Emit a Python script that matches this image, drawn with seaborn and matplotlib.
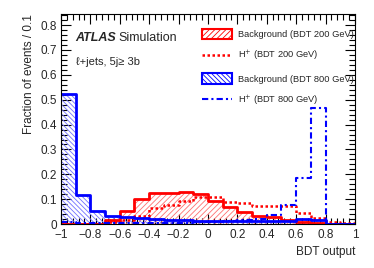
import numpy as np
import pandas as pd
import seaborn as sns
import matplotlib.pyplot as plt
from matplotlib.patches import Patch
from matplotlib.lines import Line2D
from matplotlib.ticker import MultipleLocator, FuncFormatter

sns.set_style("ticks")
plt.rcParams['font.family'] = ['Liberation Sans', 'DejaVu Sans']
plt.rcParams['hatch.linewidth'] = 0.6
plt.rcParams['axes.unicode_minus'] = True

# BDT output binning (20 bins of 0.1)
edges = [round(-1.0 + 0.1 * i, 2) for i in range(21)]
centers = [round(e + 0.05, 3) for e in edges[:-1]]

bkg_200 = [0.002, 0.002, 0.002, 0.016, 0.053, 0.100, 0.123, 0.126, 0.128, 0.119,
           0.094, 0.070, 0.047, 0.033, 0.027, 0.018, 0.007, 0.003, 0.0, 0.0]
sig_200 = [0.001, 0.001, 0.002, 0.008, 0.015, 0.033, 0.064, 0.078, 0.094, 0.110,
           0.110, 0.090, 0.086, 0.073, 0.074, 0.072, 0.045, 0.025, 0.008, 0.003]
bkg_800 = [0.522, 0.118, 0.051, 0.033, 0.027, 0.024, 0.020, 0.018, 0.016, 0.014,
           0.013, 0.012, 0.011, 0.011, 0.011, 0.011, 0.022, 0.017, 0.0, 0.0]
sig_800 = [0.008, 0.006, 0.005, 0.005, 0.005, 0.005, 0.005, 0.005, 0.006, 0.007,
           0.009, 0.012, 0.016, 0.022, 0.035, 0.078, 0.185, 0.465, 0.0, 0.0]

df = pd.DataFrame({"x": centers, "bkg200": bkg_200, "sig200": sig_200,
                   "bkg800": bkg_800, "sig800": sig_800})

fig = plt.figure(figsize=(3.74, 2.68), dpi=100)
ax = fig.add_axes([0.163, 0.164, 0.786, 0.784])

RED_HATCH = "//////"
BLUE_HATCH = "\\" * 7
RED_DOT = (0, (1.0, 1.0))
BLUE_DASHDOT = (0, (3, 1.5, 1, 1.5))


def hatched(col, color, hatch):
    n = len(ax.collections)
    sns.histplot(data=df, x="x", weights=col, bins=edges, element="step",
                 fill=True, ax=ax)
    for c in ax.collections[n:]:
        c.set_facecolor("none")
        c.set_edgecolor(color)
        c.set_hatch(hatch)
        c.set_linewidth(0)


def outline(col, color, ls, lw):
    sns.histplot(data=df, x="x", weights=col, bins=edges, element="step",
                 fill=False, color=color, linestyle=ls, linewidth=lw, ax=ax)


hatched("bkg200", "#ff7070", RED_HATCH)
outline("bkg200", "red", "-", 2.0)
outline("sig200", "red", RED_DOT, 1.8)
hatched("bkg800", "#7070ff", BLUE_HATCH)
outline("bkg800", "blue", "-", 2.0)
outline("sig800", "blue", BLUE_DASHDOT, 1.5)

ax.set_xlim(-1, 1)
ax.set_ylim(0, 0.845)
ax.xaxis.set_major_locator(MultipleLocator(0.2))
ax.xaxis.set_minor_locator(MultipleLocator(0.04))
ax.yaxis.set_major_locator(MultipleLocator(0.1))
ax.yaxis.set_minor_locator(MultipleLocator(0.02))
fmt = FuncFormatter(lambda v, p: ("%g" % round(v, 2)).replace("-", "\u2212"))
ax.xaxis.set_major_formatter(fmt)
ax.yaxis.set_major_formatter(fmt)
ax.tick_params(which="both", direction="in", top=True, right=True,
               labelsize=8.5, width=0.8, color="black")
ax.tick_params(axis="x", pad=3.5)
ax.tick_params(axis="y", pad=3)
ax.tick_params(which="major", length=7)
ax.tick_params(which="minor", length=4)
for s in ax.spines.values():
    s.set_linewidth(0.8)
    s.set_color("black")

ax.set_xlabel("BDT output", loc="right", fontsize=8.5)
ax.set_ylabel("Fraction of events / 0.1", loc="top", fontsize=8.5)

ax.text(0.05, 0.87, "ATLAS", transform=ax.transAxes, fontsize=9,
        fontweight="bold", fontstyle="italic")
ax.text(0.195, 0.87, "Simulation", transform=ax.transAxes, fontsize=9)
ax.text(0.05, 0.755, "\u2113+jets, 5j\u2265 3b", transform=ax.transAxes, fontsize=8)

handles = [
    Patch(facecolor="white", edgecolor="red", hatch=RED_HATCH, linewidth=1.5),
    Line2D([], [], color="red", linestyle=RED_DOT, linewidth=1.8),
    Patch(facecolor="white", edgecolor="blue", hatch=BLUE_HATCH, linewidth=1.5),
    Line2D([], [], color="blue", linestyle=BLUE_DASHDOT, linewidth=1.5),
]
labels = ["Background (BDT 200 GeV)", "H$^{+}$ (BDT 200 GeV)",
          "Background (BDT 800 GeV)", "H$^{+}$ (BDT 800 GeV)"]
ax.legend(handles, labels, loc="upper left", bbox_to_anchor=(0.48, 0.93),
          frameon=False, fontsize=6.7, handlelength=3.2, handleheight=1.4,
          labelspacing=1.05, handletextpad=0.65, borderaxespad=0, borderpad=0)

fig.savefig("out.png", dpi=100)
